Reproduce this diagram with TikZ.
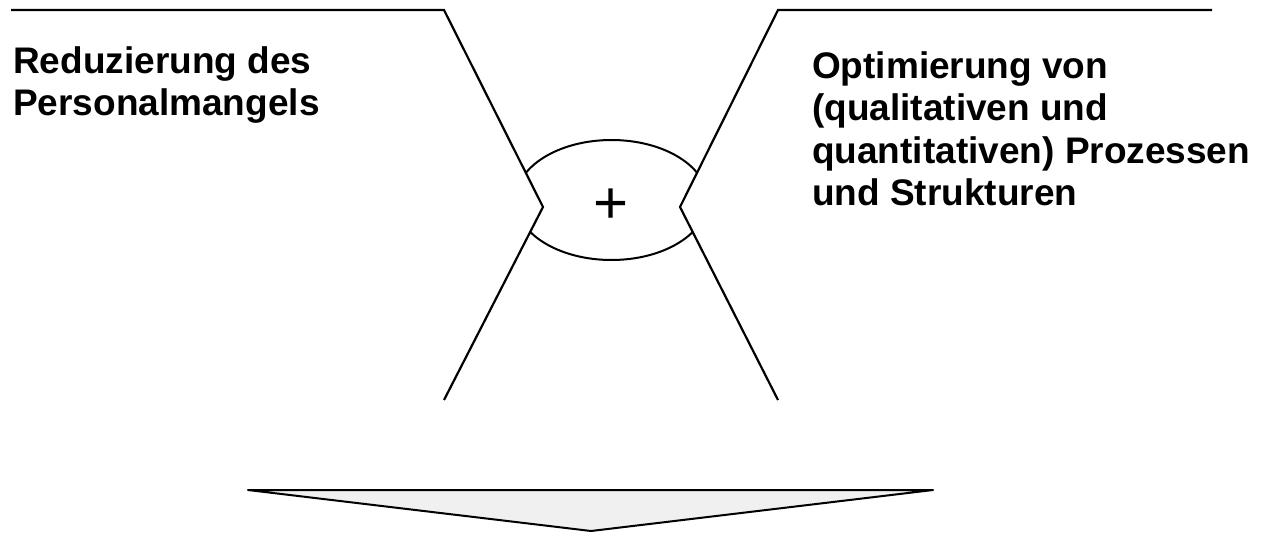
\documentclass[tikz,border=0pt]{standalone}
\usepackage{fontspec}
\setmainfont{Liberation Sans}
\begin{document}
\begin{tikzpicture}[x=1pt,y=-1pt,
  edge/.style={draw=black,line width=2.2pt,line join=miter},
  label/.style={inner sep=0pt,anchor=north west,align=left,font=\bfseries\fontsize{37}{42.5}\selectfont},
  funnel/.style={draw=black,fill=black!6,line width=2pt,line join=round}]
\useasboundingbox (0,0) rectangle (1262,533);
% key points
\coordinate (lt0) at (11,10);
\coordinate (lt1) at (444,10);
\coordinate (lv) at (543,207);
\coordinate (lb) at (444,400);
\coordinate (rt0) at (1212,10);
\coordinate (rt1) at (778,10);
\coordinate (rv) at (680,207);
\coordinate (rb) at (778,400);
% ellipse, clipped to the region between the lines
\begin{scope}
  \clip (lt1) -- (lv) -- (lb) -- (rb) -- (rv) -- (rt1) -- cycle;
  \draw[line width=2pt] (611.5,200) ellipse [x radius=96, y radius=60];
\end{scope}
\node[font=\fontsize{60}{60}\selectfont,inner sep=0pt] (plus) at (611.5,206) {+};
% lines
\draw[edge] (lt0) -- (lt1) -- (lv) -- (lb);
\draw[edge] (rt0) -- (rt1) -- (rv) -- (rb);
% texts
\node[label] (left) at (13,46) {Reduzierung des\\Personalmangels};
\node[label] (right) at (812,51) {Optimierung von\\(qualitativen und\\quantitativen) Prozessen\\und Strukturen};
% funnel triangle
\coordinate (fl) at (248,490);
\coordinate (fr) at (933,490);
\coordinate (fa) at (591,531);
\draw[funnel] (fl) -- (fr) -- (fa) -- cycle;
\end{tikzpicture}
\end{document}
